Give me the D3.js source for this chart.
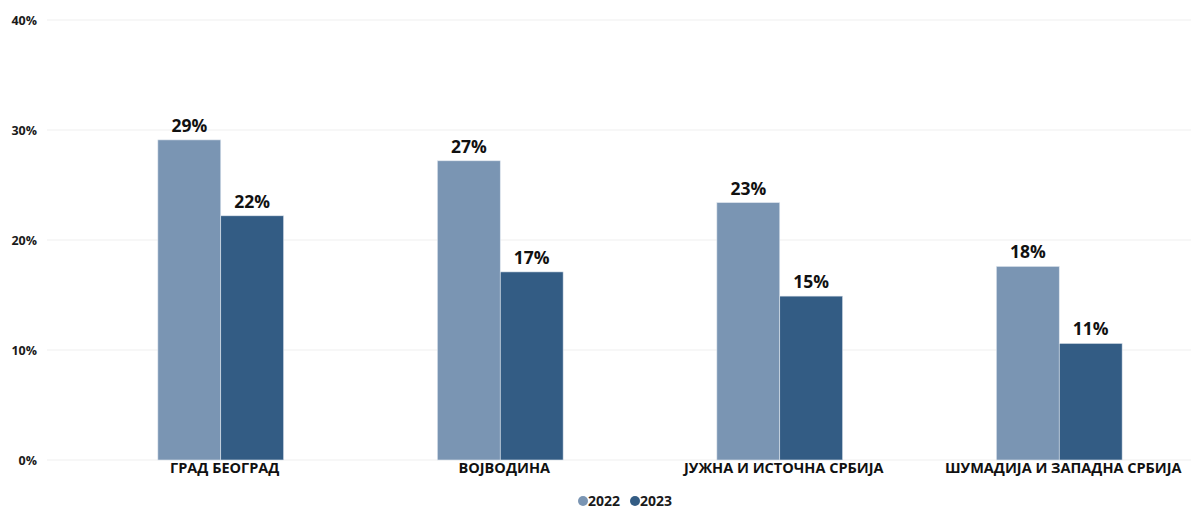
<!DOCTYPE html>
<html>
<head>
<meta charset="utf-8">
<script src="https://cdn.jsdelivr.net/npm/d3@7"></script>
<style>
  html, body { margin: 0; padding: 0; background: #fff; }
  svg { display: block; font-family: "Open Sans", "Noto Sans", sans-serif; }
</style>
</head>
<body>
<svg id="chart" width="1191" height="509"></svg>
<script>
const categories = ["ГРАД БЕОГРАД", "ВОЈВОДИНА", "ЈУЖНА И ИСТОЧНА СРБИЈА", "ШУМАДИЈА И ЗАПАДНА СРБИЈА"];
const seriesNames = ["2022", "2023"];
const values2022 = [29.1, 27.2, 23.4, 17.6];
const values2023 = [22.2, 17.1, 14.9, 10.6];
const yTicks = [0, 10, 20, 30, 40];
const colors = ["#7a95b3", "#335c84"];

const svg = d3.select("#chart");
const W = 1191, H = 509;

const y = d3.scaleLinear().domain([0, 40]).range([460, 20]);
const x = d3.scaleBand().domain(categories).range([81, 1199]).paddingInner(0.55).paddingOuter(0.275);
const xs = d3.scaleBand().domain(seriesNames).range([0, x.bandwidth()]);

const data = categories.map((c, i) => ({cat: c, vals: [values2022[i], values2023[i]]}));

// gridlines
svg.append("g").selectAll("line").data(yTicks).join("line")
  .attr("x1", 47).attr("x2", W)
  .attr("y1", d => y(d)).attr("y2", d => y(d))
  .attr("stroke", "#efefef").attr("stroke-width", 1);

// y axis labels
const yAxis = d3.axisLeft(y).tickValues(yTicks).tickFormat(d => d + "%").tickSize(0).tickPadding(0);
const gy = svg.append("g").attr("transform", "translate(37,0)").call(yAxis);
gy.select(".domain").remove();
gy.selectAll("text").attr("font-size", 12.5).attr("font-weight", "bold").attr("fill", "#1a1a1a")
  .attr("font-family", "'Open Sans', sans-serif");

// bars
const groups = svg.append("g").selectAll("g").data(data).join("g")
  .attr("transform", d => `translate(${x(d.cat)},0)`);

groups.selectAll("rect").data(d => d.vals.map((v, j) => ({v, s: seriesNames[j], j}))).join("rect")
  .attr("x", d => xs(d.s))
  .attr("width", xs.bandwidth())
  .attr("y", d => y(d.v))
  .attr("height", d => y(0) - y(d.v))
  .attr("fill", d => colors[d.j])
  .attr("stroke", "#dfe6ee").attr("stroke-width", 0.6);

groups.selectAll("text.lbl").data(d => d.vals.map((v, j) => ({v, s: seriesNames[j], j}))).join("text")
  .attr("class", "lbl")
  .attr("x", d => xs(d.s) + xs.bandwidth() / 2)
  .attr("y", d => y(d.v) - 8)
  .attr("text-anchor", "middle")
  .attr("font-size", 17.5).attr("font-weight", "bold").attr("fill", "#111")
  .text(d => Math.round(d.v) + "%");

// x axis labels
const xAxis = d3.axisBottom(x).tickSize(0).tickPadding(0);
const gx = svg.append("g").attr("transform", "translate(4,463)").call(xAxis);
gx.select(".domain").remove();
gx.selectAll("text").attr("font-size", 14.5).attr("font-weight", "bold").attr("fill", "#111")
  .attr("dy", "0.71em").attr("font-family", "'Open Sans', sans-serif");

// legend
const legendX = [583, 635];
const leg = svg.append("g").selectAll("g").data(seriesNames).join("g")
  .attr("transform", (d, i) => `translate(${legendX[i]},501)`);
leg.append("circle").attr("r", 5).attr("cx", 0).attr("cy", 0).attr("fill", (d, i) => colors[i]);
leg.append("text").attr("x", 5).attr("y", 0).attr("dy", "0.35em")
  .attr("font-size", 14).attr("font-weight", "bold").attr("fill", "#1a1a1a").text(d => d);
</script>
</body>
</html>
